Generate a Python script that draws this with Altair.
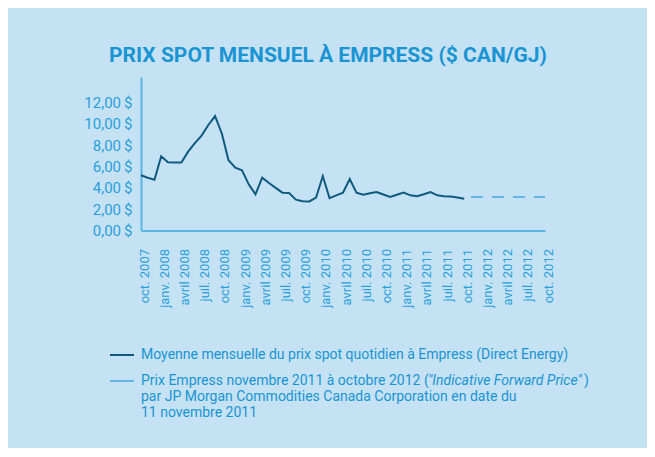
import altair as alt
import pandas as pd

# ---- data ----
months = [
    "2007-10", "2007-11", "2007-12", "2008-01", "2008-02", "2008-03", "2008-04",
    "2008-05", "2008-06", "2008-07", "2008-08", "2008-09", "2008-10", "2008-11",
    "2008-12", "2009-01", "2009-02", "2009-03", "2009-04", "2009-05", "2009-06",
    "2009-07", "2009-08", "2009-09", "2009-10", "2009-11", "2009-12", "2010-01",
    "2010-02", "2010-03", "2010-04", "2010-05", "2010-06", "2010-07", "2010-08",
    "2010-09", "2010-10", "2010-11", "2010-12", "2011-01", "2011-02", "2011-03",
    "2011-04", "2011-05", "2011-06", "2011-07", "2011-08", "2011-09", "2011-10",
]
spot = [
    5.18, 4.95, 4.77, 6.96, 6.40, 6.38, 6.37,
    7.40, 8.20, 8.90, 9.90, 10.73, 9.10, 6.59,
    5.90, 5.65, 4.33, 3.39, 4.96, 4.45, 4.00,
    3.55, 3.52, 2.89, 2.75, 2.73, 3.08, 5.11,
    3.04, 3.30, 3.55, 4.83, 3.55, 3.36, 3.50,
    3.61, 3.38, 3.14, 3.35, 3.55, 3.30, 3.22,
    3.40, 3.61, 3.30, 3.22, 3.20, 3.10, 2.98,
]
fwd_months = [
    "2011-11", "2011-12", "2012-01", "2012-02", "2012-03", "2012-04",
    "2012-05", "2012-06", "2012-07", "2012-08", "2012-09", "2012-10",
]
fwd = [3.15] * 12

tick_labels = [
    "oct. 2007", "janv. 2008", "avril 2008", "juil. 2008",
    "oct. 2008", "janv. 2009", "avril 2009", "juil. 2009",
    "oct. 2009", "janv. 2010", "avril 2010", "juil. 2010",
    "oct. 2010", "janv. 2011", "avril 2011", "juil. 2011",
    "oct. 2011", "janv. 2012", "avril 2012", "juil. 2012",
    "oct. 2012",
]
y_ticks = [0, 2, 4, 6, 8, 10, 12]

title_text = "PRIX SPOT MENSUEL À EMPRESS ($ CAN/GJ)"
leg1 = "Moyenne mensuelle du prix spot quotidien à Empress (Direct Energy)"
leg2a = "Prix Empress novembre 2011 à octobre 2012 ("
leg2b = "\"Indicative Forward Price\""
leg2c = ")"
leg3 = "par JP Morgan Commodities Canada Corporation en date du"
leg4 = "11 novembre 2011"

# ---- styling ----
FONT = "Roboto"
BG = "#c4e2f4"
TITLE_C = "#1a94d2"
LABEL_C = "#2a9fdb"
AXIS_C = "#5ab5e2"
DARK = "#0f5a7e"
LIGHT = "#62b7e6"


def midx(m):
    y, mo = m.split("-")
    return (int(y) - 2007) * 12 + int(mo) - 10


df = pd.DataFrame({"idx": [midx(m) for m in months], "value": spot})
dff = pd.DataFrame({"idx": [midx(m) for m in fwd_months], "value": fwd})

label_arr = "[" + ",".join("'" + t + "'" for t in tick_labels) + "]"

xenc = alt.X(
    "idx:Q",
    scale=alt.Scale(domain=[0, 60], nice=False, zero=False),
    axis=alt.Axis(
        values=list(range(0, 61, 3)),
        labelExpr=label_arr + "[round(datum.value/3)]",
        labelAngle=-90,
        labelPadding=18,
        labelOffset=3,
        ticks=False,
        tickSize=0,
        grid=False,
        title=None,
        labelFont=FONT,
        labelFontSize=13,
        labelColor=LABEL_C,
        domainColor=AXIS_C,
        domainWidth=2,
        labelOverlap=False,
        labelFlush=False,
    ),
)
yenc = alt.Y(
    "value:Q",
    scale=alt.Scale(domain=[0, 14.4], nice=False),
    axis=alt.Axis(
        values=y_ticks,
        labelExpr="replace(format(datum.value, '.2f'), '.', ',') + '\u2009$'",
        ticks=False,
        tickSize=0,
        grid=False,
        title=None,
        labelPadding=9,
        labelFont=FONT,
        labelFontSize=15,
        labelColor=LABEL_C,
        domainColor=AXIS_C,
        domainWidth=2,
        labelOverlap=False,
        labelFlush=False,
    ),
)

line = alt.Chart(df).mark_line(color=DARK, strokeWidth=2).encode(x=xenc, y=yenc)
dash = alt.Chart(dff).mark_line(color=LIGHT, strokeWidth=2, strokeDash=[12, 9]).encode(
    x=xenc, y=yenc
)

one = pd.DataFrame({"a": [0]})


def txt(s, x, y, style="normal"):
    return alt.Chart(one).mark_text(
        align="left", baseline="middle", font=FONT, fontSize=14,
        color=TITLE_C, fontStyle=style,
    ).encode(x=alt.value(x), y=alt.value(y), text=alt.value(s))


def swatch(c, y):
    return alt.Chart(one).mark_rule(color=c, strokeWidth=2).encode(
        x=alt.value(-31), x2=alt.value(-7), y=alt.value(y)
    )


legend = [
    swatch(DARK, 278),
    swatch(LIGHT, 304),
    txt(leg1, 0, 278),
    txt(leg2a, 0, 304),
    txt(leg2b, 287, 304, "italic"),
    txt(leg2c, 443, 304),
    txt(leg3, 0, 320),
    txt(leg4, 0, 336),
]

chart = alt.layer(line, dash, *legend).properties(
    width=404,
    height=153.5,
    title=alt.TitleParams(
        text=title_text, font=FONT, fontSize=21, fontWeight="bold",
        color=TITLE_C, anchor="middle", dx=-15, offset=11,
    ),
    autosize=alt.AutoSizeParams(type="none"),
    padding={"left": 133, "top": 69, "right": 102, "bottom": 217},
    background=BG,
).configure_view(stroke=None).configure_axis(labelOverlap=False)

chart.save("out.html", embed_options={"renderer": "svg", "actions": False})
